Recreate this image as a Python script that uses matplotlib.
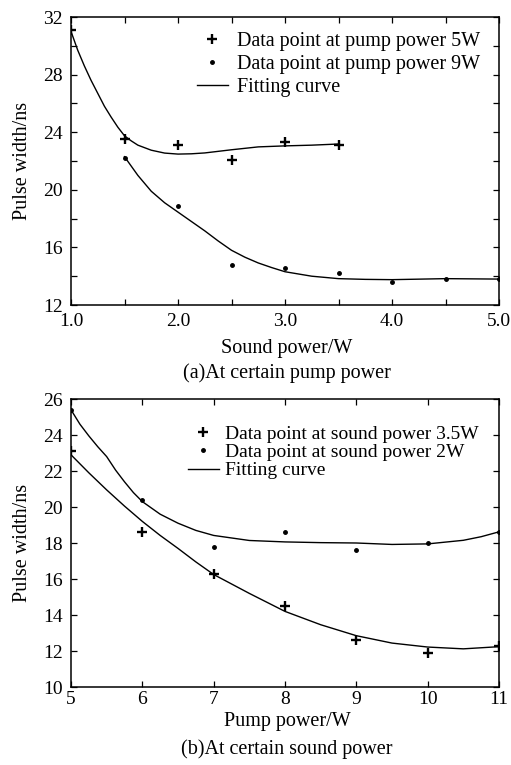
import matplotlib.pyplot as plt
from matplotlib.ticker import MultipleLocator

plt.rcParams['font.family'] = ['Liberation Serif', 'DejaVu Serif']
plt.rcParams['font.size'] = 14

# (a) pulse width vs sound power
sound_x = [1.0, 1.5, 2.0, 2.5, 3.0, 3.5]
pump5_y = [31.1, 23.5, 23.1, 22.1, 23.3, 23.1]
sound_x9 = [1.5, 2.0, 2.5, 3.0, 3.5, 4.0, 4.5, 5.0]
pump9_y = [22.2, 18.9, 14.8, 14.6, 14.2, 13.6, 13.8, 13.8]

# fitting curves
fit5_x = [1.0, 1.0625, 1.125, 1.1875, 1.25, 1.3125, 1.375, 1.4375, 1.5, 1.5625, 1.625,
          1.75, 1.875, 2.0, 2.125, 2.25, 2.5, 2.75, 3.0, 3.25, 3.5]
fit5_y = [31.0, 29.7, 28.6, 27.6, 26.7, 25.8, 25.05, 24.35, 23.75, 23.4, 23.1,
          22.75, 22.55, 22.48, 22.5, 22.56, 22.78, 22.98, 23.05, 23.1, 23.18]
fit9_x = [1.5, 1.625, 1.75, 1.875, 2.0, 2.125, 2.25, 2.375, 2.5, 2.625, 2.75, 2.875,
          3.0, 3.25, 3.5, 3.75, 4.0, 4.5, 5.0]
fit9_y = [22.3, 21.0, 19.9, 19.1, 18.45, 17.8, 17.15, 16.45, 15.8, 15.32, 14.92, 14.6,
          14.31, 14.0, 13.83, 13.78, 13.76, 13.83, 13.8]

# (b) pulse width vs pump power
pump_x = [5, 6, 7, 8, 9, 10, 11]
sound35_y = [23.1, 18.6, 16.3, 14.5, 12.6, 11.9, 12.3]
sound2_y = [25.4, 20.4, 17.8, 18.6, 17.6, 18.0, 18.6]

fit35_x = [5, 5.25, 5.5, 5.75, 6, 6.25, 6.5, 6.75, 7, 7.5, 8, 8.5, 9, 9.5, 10, 10.5, 11]
fit35_y = [22.9, 21.9, 20.95, 20.05, 19.2, 18.42, 17.7, 16.95, 16.25, 15.2, 14.2, 13.46,
           12.85, 12.44, 12.22, 12.12, 12.24]
fit2_x = [5, 5.125, 5.25, 5.375, 5.5, 5.625, 5.75, 5.875, 6, 6.25, 6.5, 6.75, 7, 7.5,
          8, 8.5, 9, 9.5, 10, 10.5, 10.75, 11]
fit2_y = [25.4, 24.6, 23.95, 23.35, 22.8, 22.05, 21.4, 20.8, 20.3, 19.6, 19.1, 18.7,
          18.42, 18.14, 18.06, 18.02, 18.0, 17.92, 17.95, 18.15, 18.35, 18.62]

fig = plt.figure(figsize=(5.11, 7.65), dpi=100)
ax1 = fig.add_axes([71/511, 1-305/765, 428/511, 288/765])
ax2 = fig.add_axes([71/511, 1-687/765, 428/511, 288/765])

for ax in (ax1, ax2):
    ax.tick_params(which='both', direction='in', top=True, right=True, length=4,
                   width=0.9, labelsize=14, pad=6)
    for s in ax.spines.values():
        s.set_linewidth(1.1)

# top panel
ax1.plot(sound_x, pump5_y, '+', color='black', ms=7, mew=1.7, label='Data point at pump power 5W')
ax1.plot(sound_x9, pump9_y, '.', color='black', ms=5, label='Data point at pump power 9W')
ax1.plot(fit5_x, fit5_y, '-', color='black', lw=1.0, label='Fitting curve')
ax1.plot(fit9_x, fit9_y, '-', color='black', lw=1.0)
ax1.set_xlim(1.0, 5.0)
ax1.set_ylim(12, 32)
ax1.xaxis.set_minor_locator(MultipleLocator(0.5))
ax1.yaxis.set_major_locator(MultipleLocator(4))
ax1.yaxis.set_minor_locator(MultipleLocator(2))
ax1.set_xticks([1, 2, 3, 4, 5])
ax1.set_xticklabels(['1.0', '2.0', '3.0', '4.0', '5.0'])
ax1.set_ylabel('Pulse width/ns', fontsize=14.5)
ax1.yaxis.set_label_coords(-0.092, 0.5)
ax1.set_xlabel('Sound power/W', fontsize=14.5)
ax1.xaxis.set_label_coords(0.505, -0.118)
ax1.legend(loc='upper left', bbox_to_anchor=(0.294, 0.948), frameon=False,
           borderpad=0, borderaxespad=0, handlelength=1.55, handletextpad=0.45,
           labelspacing=0.19, fontsize=14.5)
fig.text(287/511, 1-373/765, '(a)At certain pump power', ha='center', va='center', fontsize=14.5)

# bottom panel
ax2.plot(pump_x, sound35_y, '+', color='black', ms=7, mew=1.7, label='Data point at sound power 3.5W')
ax2.plot(pump_x, sound2_y, '.', color='black', ms=5, label='Data point at sound power 2W')
ax2.plot(fit35_x, fit35_y, '-', color='black', lw=1.0, label='Fitting curve')
ax2.plot(fit2_x, fit2_y, '-', color='black', lw=1.0)
ax2.set_xlim(5, 11)
ax2.set_ylim(10, 26)
ax2.xaxis.set_major_locator(MultipleLocator(1))
ax2.yaxis.set_major_locator(MultipleLocator(2))
ax2.tick_params(axis='x', pad=3)
ax2.set_ylabel('Pulse width/ns', fontsize=14.5)
ax2.yaxis.set_label_coords(-0.092, 0.5)
ax2.set_xlabel('Pump power/W', fontsize=14.5)
ax2.xaxis.set_label_coords(0.505, -0.088)
ax2.legend(loc='upper left', bbox_to_anchor=(0.273, 0.908), frameon=False,
           borderpad=0, borderaxespad=0, handlelength=1.6, handletextpad=0.3,
           labelspacing=0.03, fontsize=14)
fig.text(287/511, 1-749/765, '(b)At certain sound power', ha='center', va='center', fontsize=14.5)

fig.savefig('out.png', dpi=100, facecolor='white')
